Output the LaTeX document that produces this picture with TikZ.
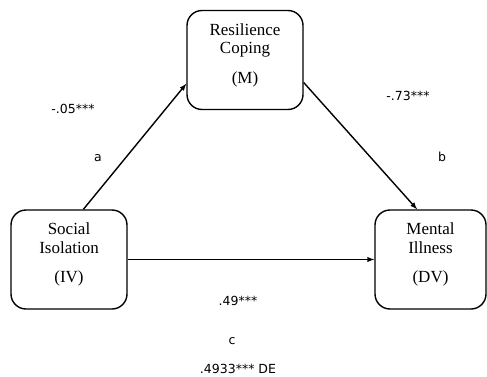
\documentclass[tikz,border=0pt]{standalone}
\usepackage{fontspec}
\setmainfont{Liberation Serif}
\newfontfamily\coeffont{DejaVu Sans}

\begin{document}
\begin{tikzpicture}[x=1pt, y=1pt,
    var/.style={draw, line width=1.4pt, rounded corners=15pt, minimum height=99pt, inner sep=0pt},
    vartext/.style={align=center, yshift=5pt, font=\fontsize{17}{18.5}\selectfont},
    coef/.style={font=\coeffont\fontsize{12.5}{14}\selectfont}]
    \useasboundingbox (0,0) rectangle (487,376);
    % the three variables
    \node[var, minimum width=116pt, label={[vartext]center:{Resilience\\Coping\\[11pt](M)}}] (M) at (245,316) {};
    \node[var, minimum width=116pt, label={[vartext]center:{Social\\Isolation\\[11pt](IV)}}] (IV) at (69,116.5) {};
    \node[var, minimum width=111pt, label={[vartext]center:{Mental\\Illness\\[11pt](DV)}}] (DV) at (430.5,116.5) {};
    % paths
    \draw[line width=1.4pt, -latex] (IV.74) -- (M.202);
    \draw[line width=1.4pt, -latex] (M.339) -- (DV.105);
    \draw[line width=1.4pt, -latex] (IV.east) -- (DV.west);
    % coefficients
    \node[coef] (ca) at (73,267) {-.05***};
    \node[coef] (la) at (98,218) {a};
    \node[coef] (cb) at (408,280) {-.73***};
    \node[coef] (lb) at (442,219) {b};
    \node[coef] (cc) at (238,75) {.49***};
    \node[coef] (lc) at (232,35) {c};
    \node[coef] (de) at (238,7) {.4933*** DE};
\end{tikzpicture}
\end{document}
